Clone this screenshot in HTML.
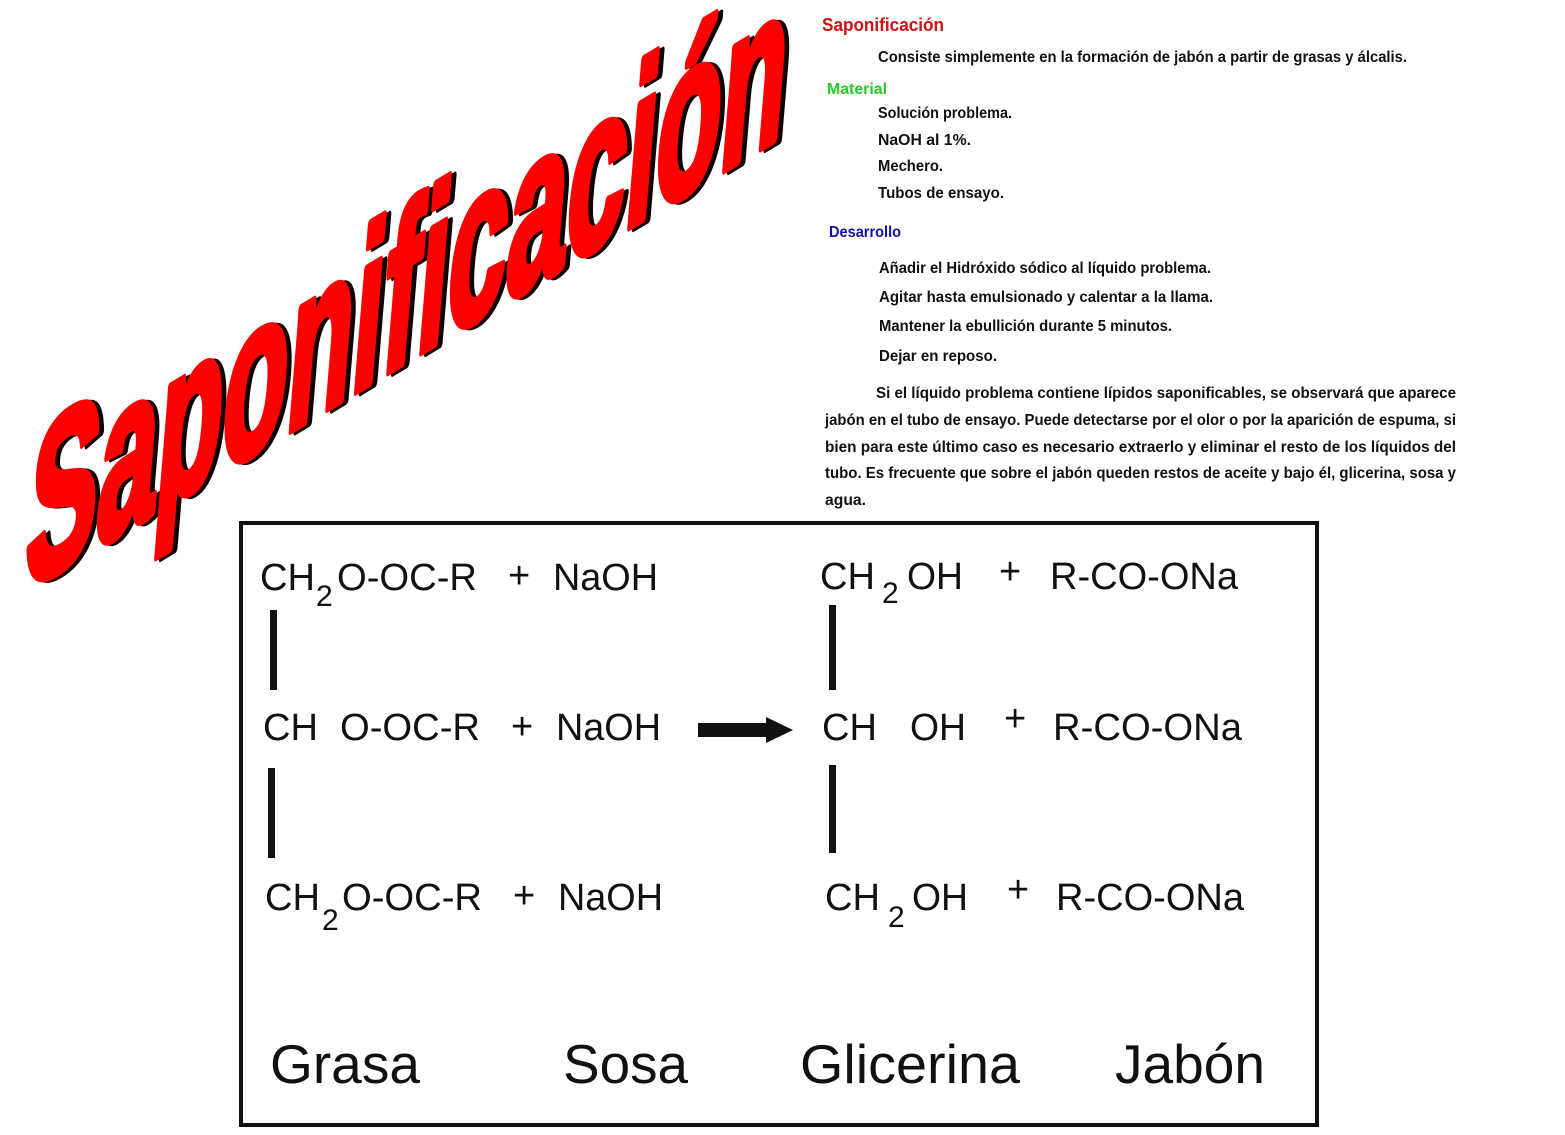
<!DOCTYPE html>
<html><head><meta charset="utf-8"><style>
html,body{margin:0;padding:0;background:#fff;}
svg{display:block;}
.t{font-family:"Liberation Sans",sans-serif;font-weight:bold;font-size:16px;fill:#111;}
.f{font-family:"Liberation Sans",sans-serif;font-size:38px;fill:#111;}
.s{font-family:"Liberation Sans",sans-serif;font-size:30px;fill:#111;}
.b{font-family:"Liberation Sans",sans-serif;font-size:55px;fill:#111;}
</style></head><body>
<svg width="1565" height="1135" viewBox="0 0 1565 1135" xmlns="http://www.w3.org/2000/svg">
<rect width="1565" height="1135" fill="#fff"/>
<!-- Big title -->
<g transform="translate(22,592) skewY(-31) skewX(-5) scale(1,0.83)">
  <text x="5" y="4" font-family="Liberation Sans, sans-serif" font-weight="bold" font-size="265" fill="#100" stroke="#100" stroke-width="10" stroke-linejoin="round" textLength="760" lengthAdjust="spacingAndGlyphs">Saponificación</text>
  <text x="0" y="0" font-family="Liberation Sans, sans-serif" font-weight="bold" font-size="265" fill="#ff0000" stroke="#ff0000" stroke-width="10" stroke-linejoin="round" textLength="760" lengthAdjust="spacingAndGlyphs">Saponificación</text>
</g>
<!-- Right text -->
<text x="822" y="31" class="t" style="font-size:18px;fill:#cc1111" textLength="122" lengthAdjust="spacingAndGlyphs">Saponificación</text>
<text x="878" y="62" class="t" textLength="529" lengthAdjust="spacingAndGlyphs">Consiste simplemente en la formación de jabón a partir de grasas y álcalis.</text>
<text x="827" y="94" class="t" style="fill:#22cc22" textLength="60" lengthAdjust="spacingAndGlyphs">Material</text>
<text x="878" y="118" class="t" textLength="134" lengthAdjust="spacingAndGlyphs">Solución problema.</text>
<text x="878" y="145" class="t" textLength="93" lengthAdjust="spacingAndGlyphs">NaOH al 1%.</text>
<text x="878" y="171" class="t" textLength="65" lengthAdjust="spacingAndGlyphs">Mechero.</text>
<text x="878" y="198" class="t" textLength="126" lengthAdjust="spacingAndGlyphs">Tubos de ensayo.</text>
<text x="829" y="237" class="t" style="fill:#1111aa" textLength="72" lengthAdjust="spacingAndGlyphs">Desarrollo</text>
<text x="879" y="273" class="t" textLength="332" lengthAdjust="spacingAndGlyphs">Añadir el Hidróxido sódico al líquido problema.</text>
<text x="879" y="302" class="t" textLength="334" lengthAdjust="spacingAndGlyphs">Agitar hasta emulsionado y calentar a la llama.</text>
<text x="879" y="331" class="t" textLength="293" lengthAdjust="spacingAndGlyphs">Mantener la ebullición durante 5 minutos.</text>
<text x="879" y="361" class="t" textLength="118" lengthAdjust="spacingAndGlyphs">Dejar en reposo.</text>
<text x="876" y="398" class="t" textLength="580" lengthAdjust="spacingAndGlyphs">Si el líquido problema contiene lípidos saponificables, se observará que aparece</text>
<text x="825" y="425" class="t" textLength="631" lengthAdjust="spacingAndGlyphs">jabón en el tubo de ensayo. Puede detectarse por el olor o por la aparición de espuma, si</text>
<text x="825" y="452" class="t" textLength="631" lengthAdjust="spacingAndGlyphs">bien para este último caso es necesario extraerlo y eliminar el resto de los líquidos del</text>
<text x="825" y="478" class="t" textLength="631" lengthAdjust="spacingAndGlyphs">tubo. Es frecuente que sobre el jabón queden restos de aceite y bajo él, glicerina, sosa y</text>
<text x="825" y="505" class="t" textLength="41" lengthAdjust="spacingAndGlyphs">agua.</text>
<!-- Box -->
<rect x="241" y="523" width="1076" height="602" fill="none" stroke="#111" stroke-width="4"/>
<!-- Row 1 -->
<text x="260" y="590" class="f" textLength="55" lengthAdjust="spacingAndGlyphs">CH</text>
<text x="316" y="606" class="s">2</text>
<text x="337" y="590" class="f" textLength="140" lengthAdjust="spacingAndGlyphs">O-OC-R</text>
<text x="508" y="588" class="f">+</text>
<text x="553" y="590" class="f" textLength="105" lengthAdjust="spacingAndGlyphs">NaOH</text>
<text x="820" y="589" class="f" textLength="55" lengthAdjust="spacingAndGlyphs">CH</text>
<text x="882" y="603" class="s">2</text>
<text x="907" y="589" class="f" textLength="56" lengthAdjust="spacingAndGlyphs">OH</text>
<text x="999" y="584" class="f">+</text>
<text x="1050" y="589" class="f" textLength="188" lengthAdjust="spacingAndGlyphs">R-CO-ONa</text>
<!-- Row 2 -->
<text x="263" y="740" class="f" textLength="55" lengthAdjust="spacingAndGlyphs">CH</text>
<text x="340" y="740" class="f" textLength="140" lengthAdjust="spacingAndGlyphs">O-OC-R</text>
<text x="511" y="739" class="f">+</text>
<text x="556" y="740" class="f" textLength="105" lengthAdjust="spacingAndGlyphs">NaOH</text>
<text x="822" y="740" class="f" textLength="55" lengthAdjust="spacingAndGlyphs">CH</text>
<text x="910" y="740" class="f" textLength="56" lengthAdjust="spacingAndGlyphs">OH</text>
<text x="1004" y="731" class="f">+</text>
<text x="1053" y="740" class="f" textLength="189" lengthAdjust="spacingAndGlyphs">R-CO-ONa</text>
<!-- Arrow -->
<rect x="698" y="723" width="72" height="14" fill="#111"/>
<polygon points="766,717 793,730 766,743" fill="#111"/>
<!-- Row 3 -->
<text x="265" y="910" class="f" textLength="55" lengthAdjust="spacingAndGlyphs">CH</text>
<text x="322" y="930" class="s">2</text>
<text x="342" y="910" class="f" textLength="140" lengthAdjust="spacingAndGlyphs">O-OC-R</text>
<text x="513" y="908" class="f">+</text>
<text x="558" y="910" class="f" textLength="105" lengthAdjust="spacingAndGlyphs">NaOH</text>
<text x="825" y="910" class="f" textLength="55" lengthAdjust="spacingAndGlyphs">CH</text>
<text x="888" y="927" class="s">2</text>
<text x="912" y="910" class="f" textLength="56" lengthAdjust="spacingAndGlyphs">OH</text>
<text x="1007" y="902" class="f">+</text>
<text x="1056" y="910" class="f" textLength="188" lengthAdjust="spacingAndGlyphs">R-CO-ONa</text>
<!-- Bars -->
<rect x="270" y="610" width="7" height="80" fill="#111"/>
<rect x="268" y="768" width="7" height="90" fill="#111"/>
<rect x="829" y="605" width="7" height="85" fill="#111"/>
<rect x="829" y="765" width="7" height="88" fill="#111"/>
<!-- Labels -->
<text x="270" y="1083" class="b" textLength="150" lengthAdjust="spacingAndGlyphs">Grasa</text>
<text x="563" y="1083" class="b" textLength="125" lengthAdjust="spacingAndGlyphs">Sosa</text>
<text x="800" y="1083" class="b" textLength="220" lengthAdjust="spacingAndGlyphs">Glicerina</text>
<text x="1115" y="1083" class="b" textLength="150" lengthAdjust="spacingAndGlyphs">Jabón</text>
</svg>
</body></html>
